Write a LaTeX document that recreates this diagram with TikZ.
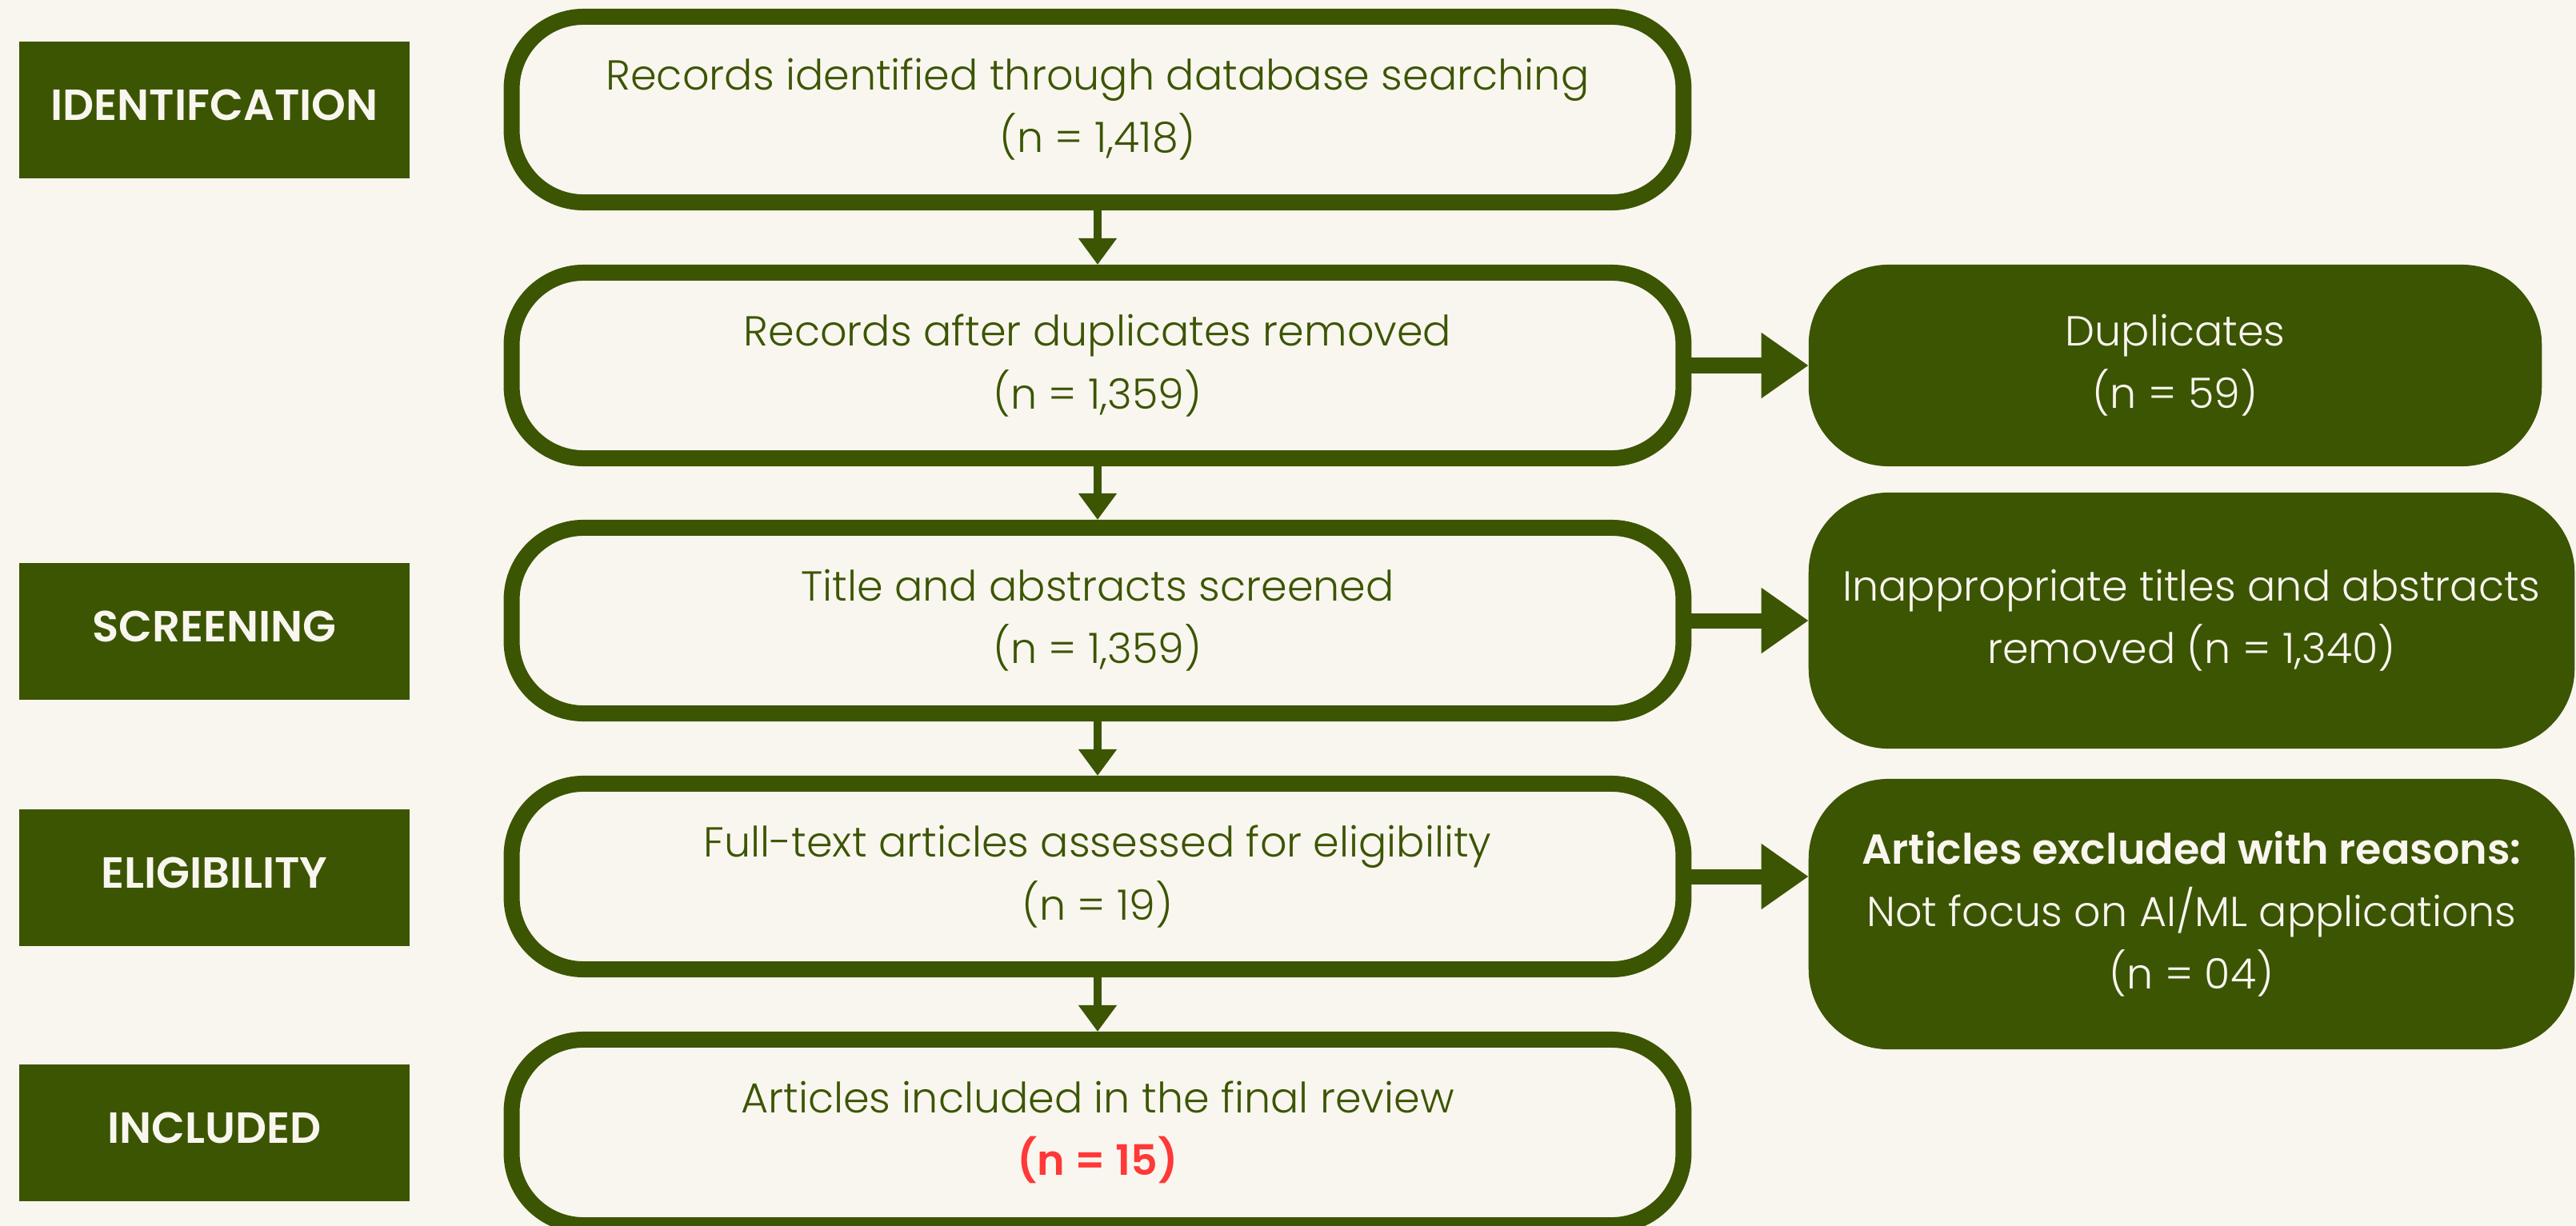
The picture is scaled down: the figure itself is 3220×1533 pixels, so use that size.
\documentclass[tikz,border=0pt]{standalone}
\usepackage{fontspec}
\setmainfont{Poppins Light}[BoldFont={Poppins SemiBold}]
\usetikzlibrary{arrows.meta}
\definecolor{grn}{HTML}{3C5503}
\definecolor{bg}{HTML}{F9F6EF}
\definecolor{redn}{HTML}{FF3838}
\newcommand*\mfnt{\fontsize{14.9pt}{22.2pt}\selectfont}
\newcommand*\lfnt{\fontsize{15.5pt}{22.2pt}\selectfont\bfseries}
\tikzset{
  mainbox/.style={draw=grn, fill=bg, line width=0.2cm, rounded corners=0.9cm,
    minimum width=14.64cm, minimum height=2.32cm, text=grn, align=center,
    font=\mfnt, inner sep=0pt},
  sidebox/.style={fill=grn, rounded corners=1cm, text=bg, align=center,
    font=\mfnt, inner sep=0pt, outer sep=0pt},
  stagebox/.style={fill=grn, minimum width=4.88cm, minimum height=1.71cm,
    text=bg, font=\lfnt, inner sep=0pt, outer sep=0pt, text depth=0.12cm},
  varr/.style={draw=grn, line width=0.1cm, -{Triangle[length=0.33cm,width=0.46cm]}},
  harr/.style={draw=grn, line width=0.19cm, -{Triangle[length=0.59cm,width=0.78cm]}}
}
\begin{document}
\begin{tikzpicture}[x=0.01cm, y=-0.01cm]
\fill[bg] (0,0) rectangle (3220,1533);
\useasboundingbox (0,0) rectangle (3220,1533);
\clip (0,0) rectangle (3220,1533);

% stage labels
\node[stagebox] (s1) at (268,137.5) {IDENTIFCATION};
\node[stagebox] (s2) at (268,789.5) {SCREENING};
\node[stagebox] (s3) at (268,1097.5) {ELIGIBILITY};
\node[stagebox] (s4) at (268,1416.5) {INCLUDED};

% main boxes
\node[mainbox] (b1) at (1372,137) {Records identified through database searching\\(n = 1,418)};
\node[mainbox] (b2) at (1372,457) {Records after duplicates removed\\(n = 1,359)};
\node[mainbox] (b3) at (1372,776) {Title and abstracts screened\\(n = 1,359)};
\node[mainbox] (b4) at (1372,1096) {Full-text articles assessed for eligibility\\(n = 19)};
\node[mainbox] (b5) at (1372,1416) {Articles included in the final review\\{\bfseries\color{redn}(n = 15)}};

% side boxes
\node[sidebox, minimum width=9.16cm, minimum height=2.52cm] (d) at (2719,457) {Duplicates\\(n = 59)};
\node[sidebox, minimum width=9.57cm, minimum height=3.2cm] (ia) at (2739.5,776) {Inappropriate titles and abstracts\\removed (n = 1,340)};
\node[sidebox, minimum width=9.57cm, minimum height=3.38cm] (ex) at (2739.5,1143) {\textbf{Articles excluded with reasons:}\\Not focus on AI/ML applications\\(n = 04)};

% connectors
\draw[varr] (b1) -- (b2);
\draw[varr] (b2) -- (b3);
\draw[varr] (b3) -- (b4);
\draw[varr] (b4) -- (b5);
\draw[harr] (b2) -- (d);
\draw[harr] (b3) -- (ia);
\draw[harr] (b4.east) -- (b4.east -| ex.west);
\end{tikzpicture}
\end{document}
